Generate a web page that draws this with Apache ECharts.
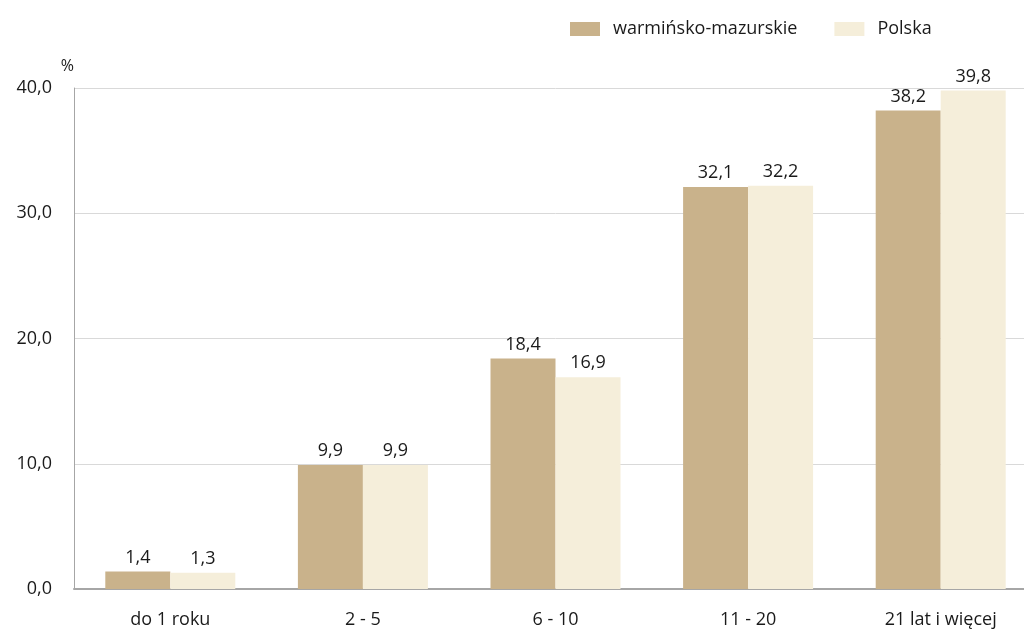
<!DOCTYPE html>
<html>
<head>
<meta charset="utf-8">
<script src="https://cdn.jsdelivr.net/npm/echarts@6/dist/echarts.min.js"></script>
<style>html,body{margin:0;padding:0;background:#fff;overflow:hidden}#c{width:1037px;height:629px}</style>
</head>
<body>
<div id="c"></div>
<script>
const categories = ['do 1 roku', '2 - 5', '6 - 10', '11 - 20', '21 lat i więcej'];
const warminskoMazurskie = [1.4, 9.9, 18.4, 32.1, 38.2];
const polska = [1.3, 9.9, 16.9, 32.2, 39.8];
const yTicks = [0, 10, 20, 30, 40];

const fmt = v => Number(v).toFixed(1).replace('.', ',');
const font = '"Open Sans", "Liberation Sans", sans-serif';
const chart = echarts.init(document.getElementById('c'));
chart.setOption({
  animation: false,
  textStyle: { fontFamily: font },
  legend: {
    data: ['warmińsko-mazurskie', 'Polska'],
    left: 565, top: 15,
    itemWidth: 30, itemHeight: 14, itemGap: 37,
    textStyle: { fontSize: 18, color: '#1a1a1a', fontFamily: font, padding: [0, 0, 0, 8] },
    icon: 'rect'
  },
  grid: { left: 74, top: 88, right: 0, height: 502, containLabel: false },
  xAxis: {
    type: 'category',
    data: categories,
    axisLine: { show: true, lineStyle: { color: '#A6A6A6', width: 2 } },
    axisTick: { show: false },
    axisLabel: { fontSize: 18, color: '#1a1a1a', margin: 22, fontFamily: font, interval: 0 }
  },
  yAxis: {
    type: 'value',
    min: yTicks[0], max: yTicks[yTicks.length - 1], interval: 10,
    name: '%', nameLocation: 'end', nameGap: 14,
    nameTextStyle: { fontSize: 16, color: '#1a1a1a', align: 'right', padding: [0, 0, 0, 0], fontFamily: font },
    axisLine: { show: true, lineStyle: { color: '#A6A6A6', width: 1 } },
    axisTick: { show: false },
    splitLine: { lineStyle: { color: '#D9D9D9', width: 1 } },
    axisLabel: { fontSize: 18, color: '#1a1a1a', margin: 22, formatter: fmt, fontFamily: font }
  },
  series: [
    {
      name: 'warmińsko-mazurskie', type: 'bar', data: warminskoMazurskie,
      barWidth: 65, barGap: '0%',
      itemStyle: { color: '#C9B28B' },
      label: { show: true, position: 'top', fontSize: 18, color: '#1a1a1a', formatter: p => fmt(p.value), distance: 5, fontFamily: font }
    },
    {
      name: 'Polska', type: 'bar', data: polska,
      barWidth: 65, barGap: '0%',
      itemStyle: { color: '#F5EEDA' },
      label: { show: true, position: 'top', fontSize: 18, color: '#1a1a1a', formatter: p => fmt(p.value), distance: 5, fontFamily: font }
    }
  ]
});
</script>
</body>
</html>
